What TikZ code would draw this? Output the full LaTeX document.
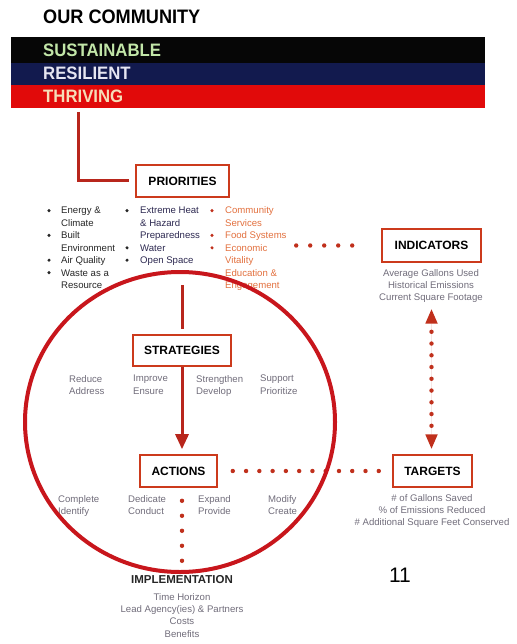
\documentclass[tikz,border=0pt]{standalone}
\usepackage{fontspec}
\usepackage{graphicx}
\setmainfont{Liberation Sans}
\usetikzlibrary{arrows.meta,calc}
\definecolor{bandblack}{HTML}{060606}
\definecolor{bandnavy}{HTML}{121A4E}
\definecolor{bandred}{HTML}{E10A0A}
\definecolor{conred}{HTML}{B8261C}
\definecolor{boxred}{HTML}{CC3A1C}
\definecolor{dotred}{HTML}{C0301C}
\definecolor{circred}{HTML}{C8161C}
\definecolor{txtgray}{HTML}{706C7A}
\definecolor{colone}{HTML}{262626}
\definecolor{coltwo}{HTML}{2C2850}
\definecolor{colthree}{HTML}{E2703E}
\definecolor{sustgreen}{HTML}{C2E6A8}
\definecolor{reswhite}{HTML}{E6E6F2}
\definecolor{thrbeige}{HTML}{F6DDB8}
\tikzset{bigtip/.tip={Triangle[width=13pt,length=15pt]}}
\begin{document}
\begin{tikzpicture}[x=1pt,y=-1pt,
  labelbox/.style={draw=boxred, line width=1.6pt, fill=white, inner sep=0pt,
    font=\fontsize{12}{14}\selectfont\bfseries},
  bandtext/.style={anchor=base west, inner sep=0pt, font=\fontsize{18}{20}\selectfont\bfseries},
  item/.style={anchor=base west, inner sep=0pt, font=\fontsize{9.6}{12}\selectfont},
  graytext/.style={inner sep=0pt, align=#1, font=\fontsize{9.6}{12.4}\selectfont, text=txtgray},
  bulletdot/.style={circle, inner sep=0pt, minimum size=3.4pt, fill=#1},
  conn/.style={draw=conred, line width=3pt},
  dotline/.style={draw=dotred, line width=4.4pt, line cap=round, dash pattern=on 0pt off #1}
]
\useasboundingbox (0,0) rectangle (516,644);

% title
\node[anchor=base west, inner sep=0pt, font=\fontsize{19.5}{22}\selectfont\bfseries] (title) at (43,24)
  {\scalebox{0.93}[1]{OUR COMMUNITY}};

% band
\fill[bandblack] (11,37) rectangle (485,63);
\fill[bandnavy] (11,63) rectangle (485,85);
\fill[bandred] (11,85) rectangle (485,108);
\node[bandtext, text=sustgreen] (sust) at (43,57) {\scalebox{0.93}[1]{SUSTAINABLE}};
\node[bandtext, text=reswhite] (resil) at (43,80) {\scalebox{0.93}[1]{RESILIENT}};
\node[bandtext, text=thrbeige] (thriv) at (43,103) {\scalebox{0.93}[1]{THRIVING}};
\coordinate (bandfoot) at (78,112);

% boxes
\node[labelbox, minimum width=93pt, minimum height=32pt] (prio) at (182.5,181) {PRIORITIES};
\node[labelbox, minimum width=99pt, minimum height=33pt] (ind) at (431.5,245.5) {INDICATORS};
\node[labelbox, minimum width=98pt, minimum height=31pt] (strat) at (182,350.5) {STRATEGIES};
\node[labelbox, minimum width=77pt, minimum height=32pt] (act) at (178.5,471) {ACTIONS};
\node[labelbox, minimum width=79pt, minimum height=32pt] (tar) at (432.5,471) {TARGETS};

% connector band -> priorities
\draw[conn, shorten >=6pt] (bandfoot) |- (prio.west);

% priority lists
\foreach \t [count=\i from 0] in {Energy \&, Climate, Built, Environment, Air Quality, Waste as a, Resource}
  \node[item, text=colone] (pa\i) at (61,{214+12.4*\i}) {\t};
\foreach \t [count=\i from 0] in {Extreme Heat, \& Hazard, Preparedness, Water, Open Space}
  \node[item, text=coltwo] (pb\i) at (140,{214+12.4*\i}) {\t};
\foreach \t [count=\i from 0] in {Community, Services, Food Systems, Economic, Vitality, Education \&, Engagement}
  \node[item, text=colthree] (pc\i) at (225,{214+12.4*\i}) {\t};
\foreach \k in {0,2,4,5}
  \node[bulletdot=colone] (ba\k) at (49,{210.6+12.4*\k}) {};
\foreach \k in {0,3,4}
  \node[bulletdot=colone] (bb\k) at (127,{210.6+12.4*\k}) {};
\foreach \k in {0,2,3}
  \node[bulletdot=dotred] (bc\k) at (212,{210.6+12.4*\k}) {};

% indicators list
\node[graytext=center, anchor=north] (indlist) at (431,269)
  {Average Gallons Used\\Historical Emissions\\Current Square Footage};

% strategies words
\node[graytext=left, anchor=north west] (s1) at (69,375) {Reduce\\Address};
\node[graytext=left, anchor=north west] (s2) at (133,375) {Improve\\Ensure};
\node[graytext=left, anchor=north west] (s3) at (196,375) {Strengthen\\Develop};
\node[graytext=left, anchor=north west] (s4) at (260,375) {Support\\Prioritize};

% actions words
\node[graytext=left, anchor=north west] (a1) at (58,495) {Complete\\Identify};
\node[graytext=left, anchor=north west] (a2) at (128,495) {Dedicate\\Conduct};
\node[graytext=left, anchor=north west] (a3) at (198,495) {Expand\\Provide};
\node[graytext=left, anchor=north west] (a4) at (268,495) {Modify\\Create};

% targets list
\node[graytext=center, anchor=north] (tarlist) at (432,494)
  {\# of Gallons Saved\\\% of Emissions Reduced\\\# Additional Square Feet Conserved};

% implementation
\node[anchor=base, inner sep=0pt, font=\fontsize{11.5}{14}\selectfont\bfseries, text=colone] (impl) at (182,583) {IMPLEMENTATION};
\node[graytext=center, anchor=north] (impllist) at (182,593)
  {Time Horizon\\Lead Agency(ies) \& Partners\\Costs\\Benefits};

% page number
\node[anchor=base, inner sep=0pt, font=\fontsize{21}{24}\selectfont] (pg) at (400,582) {11};

% main arrows
\coordinate (astart) at (182,285);
\draw[conn, shorten >=5pt] (astart) -- (strat.north);
\draw[conn, -{bigtip}, shorten >=5pt] (strat.south) -- (strat.south |- act.north);

% dotted connectors
\draw[dotline=14pt] ([xshift=-85pt]ind.west) -- ++(70,0);
\draw[dotline=13.27pt] ([xshift=15pt]act.east) -- ++(146,0);
\draw[dotline=15pt] ([xshift=3.5pt,yshift=-13pt]act.south) -- ++(0,60);
\draw[dotline=11.75pt] ([yshift=-69pt]ind.south) -- ++(0,94);
\draw[draw=dotred, draw opacity=0, fill=dotred, line width=0.4pt, {bigtip}-{bigtip},
  shorten <=46pt, shorten >=5pt] (ind.south) -- (ind.south |- tar.north);

% big circle
\draw[draw=circred, line width=4pt] (180,422) ellipse [x radius=155pt, y radius=150pt];
\end{tikzpicture}
\end{document}
